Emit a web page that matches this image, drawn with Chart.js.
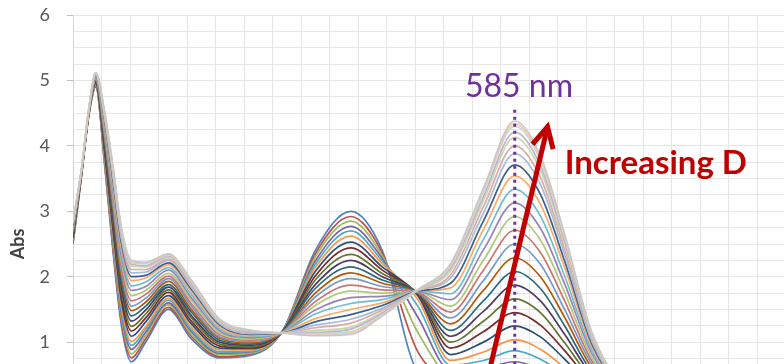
<!DOCTYPE html>
<html>
<head>
<meta charset="utf-8">
<script src="https://cdn.jsdelivr.net/npm/chart.js@4.4.1/dist/chart.umd.min.js"></script>
<style>
  html, body { margin: 0; padding: 0; background: #fff; overflow: hidden; }
  #wrap { width: 784px; height: 364px; overflow: hidden; }
</style>
</head>
<body>
<div id="wrap"><canvas id="spectra" width="830" height="503"></canvas></div>
<script>
// wavelength (nm)
const wavelength = [275, 281, 286, 291, 297, 303, 309, 316, 326, 342, 358, 378, 400, 422, 445, 470, 492, 517, 540, 563, 585, 603, 620, 640, 670, 720, 795];

// absorbance, one spectrum per D step
const abs01 = [2.50, 3.55, 4.45, 4.90, 3.75, 2.40, 1.25, 0.70, 1.00, 1.50, 1.05, 0.76, 0.80, 1.17, 2.40, 3.00, 2.40, 0.55, 0.35, 0.22, 0.20, 0.15, 0.10, 0.05, 0.02, 0.01, 0.02];
const abs02 = [2.51, 3.55, 4.45, 4.91, 3.78, 2.45, 1.31, 0.76, 1.05, 1.53, 1.09, 0.78, 0.82, 1.17, 2.35, 2.92, 2.36, 0.85, 0.42, 0.35, 0.37, 0.30, 0.20, 0.09, 0.03, 0.01, 0.02];
const abs03 = [2.53, 3.56, 4.46, 4.92, 3.81, 2.50, 1.37, 0.82, 1.10, 1.57, 1.12, 0.81, 0.83, 1.17, 2.30, 2.85, 2.32, 1.15, 0.50, 0.47, 0.53, 0.45, 0.30, 0.13, 0.03, 0.01, 0.02];
const abs04 = [2.54, 3.56, 4.46, 4.93, 3.85, 2.56, 1.43, 0.89, 1.15, 1.60, 1.16, 0.83, 0.85, 1.17, 2.24, 2.77, 2.28, 1.38, 0.57, 0.60, 0.70, 0.59, 0.41, 0.18, 0.04, 0.01, 0.02];
const abs05 = [2.56, 3.57, 4.47, 4.94, 3.88, 2.61, 1.49, 0.95, 1.20, 1.64, 1.19, 0.85, 0.86, 1.17, 2.19, 2.70, 2.24, 1.55, 0.65, 0.72, 0.87, 0.74, 0.51, 0.22, 0.05, 0.02, 0.02];
const abs06 = [2.57, 3.57, 4.47, 4.94, 3.91, 2.66, 1.55, 1.01, 1.24, 1.67, 1.23, 0.88, 0.88, 1.16, 2.14, 2.62, 2.20, 1.65, 0.72, 0.85, 1.04, 0.89, 0.61, 0.26, 0.06, 0.02, 0.02];
const abs07 = [2.59, 3.58, 4.48, 4.96, 3.95, 2.73, 1.63, 1.09, 1.31, 1.71, 1.28, 0.91, 0.90, 1.16, 2.08, 2.53, 2.15, 1.71, 0.81, 1.00, 1.25, 1.08, 0.74, 0.31, 0.07, 0.02, 0.02];
const abs08 = [2.61, 3.58, 4.48, 4.97, 3.99, 2.79, 1.70, 1.17, 1.37, 1.76, 1.32, 0.94, 0.91, 1.16, 2.01, 2.44, 2.10, 1.73, 0.91, 1.16, 1.45, 1.26, 0.87, 0.37, 0.07, 0.02, 0.02];
const abs09 = [2.62, 3.59, 4.49, 4.98, 4.03, 2.86, 1.78, 1.24, 1.43, 1.80, 1.37, 0.97, 0.93, 1.16, 1.95, 2.34, 2.05, 1.74, 1.00, 1.32, 1.66, 1.45, 0.99, 0.42, 0.08, 0.02, 0.02];
const abs10 = [2.64, 3.59, 4.49, 4.99, 4.07, 2.92, 1.85, 1.32, 1.49, 1.84, 1.41, 1.00, 0.95, 1.16, 1.88, 2.25, 2.00, 1.74, 1.09, 1.47, 1.87, 1.63, 1.12, 0.47, 0.09, 0.03, 0.02];
const abs11 = [2.66, 3.60, 4.50, 5.00, 4.11, 2.99, 1.93, 1.40, 1.55, 1.88, 1.46, 1.03, 0.97, 1.16, 1.82, 2.15, 1.95, 1.75, 1.18, 1.63, 2.08, 1.82, 1.25, 0.52, 0.10, 0.03, 0.02];
const abs12 = [2.68, 3.60, 4.50, 5.01, 4.15, 3.05, 2.00, 1.48, 1.61, 1.93, 1.50, 1.06, 0.99, 1.15, 1.75, 2.06, 1.90, 1.75, 1.28, 1.79, 2.29, 2.00, 1.38, 0.58, 0.11, 0.03, 0.02];
const abs13 = [2.69, 3.61, 4.51, 5.02, 4.19, 3.12, 2.08, 1.55, 1.67, 1.97, 1.55, 1.08, 1.01, 1.15, 1.69, 1.97, 1.85, 1.76, 1.37, 1.94, 2.50, 2.19, 1.50, 0.63, 0.12, 0.03, 0.02];
const abs14 = [2.71, 3.61, 4.51, 5.03, 4.23, 3.18, 2.15, 1.63, 1.73, 2.01, 1.59, 1.11, 1.03, 1.15, 1.62, 1.87, 1.80, 1.76, 1.46, 2.10, 2.71, 2.37, 1.63, 0.68, 0.13, 0.03, 0.03];
const abs15 = [2.73, 3.62, 4.52, 5.04, 4.27, 3.25, 2.23, 1.71, 1.79, 2.05, 1.64, 1.14, 1.05, 1.15, 1.56, 1.78, 1.75, 1.77, 1.55, 2.25, 2.92, 2.56, 1.76, 0.73, 0.14, 0.04, 0.03];
const abs16 = [2.75, 3.62, 4.52, 5.05, 4.31, 3.31, 2.30, 1.79, 1.85, 2.10, 1.68, 1.17, 1.07, 1.15, 1.49, 1.68, 1.70, 1.77, 1.65, 2.41, 3.13, 2.74, 1.89, 0.79, 0.15, 0.04, 0.03];
const abs17 = [2.76, 3.63, 4.53, 5.07, 4.35, 3.38, 2.38, 1.86, 1.92, 2.14, 1.73, 1.20, 1.09, 1.15, 1.43, 1.59, 1.65, 1.78, 1.74, 2.57, 3.34, 2.93, 2.01, 0.84, 0.16, 0.04, 0.03];
const abs18 = [2.78, 3.63, 4.53, 5.08, 4.39, 3.44, 2.45, 1.94, 1.98, 2.18, 1.77, 1.23, 1.10, 1.15, 1.36, 1.50, 1.60, 1.78, 1.83, 2.72, 3.54, 3.11, 2.14, 0.89, 0.16, 0.04, 0.03];
const abs19 = [2.79, 3.63, 4.53, 5.08, 4.42, 3.49, 2.51, 2.00, 2.02, 2.21, 1.81, 1.26, 1.12, 1.14, 1.31, 1.42, 1.56, 1.78, 1.90, 2.85, 3.71, 3.26, 2.24, 0.93, 0.17, 0.04, 0.03];
const abs20 = [2.81, 3.64, 4.54, 5.09, 4.45, 3.54, 2.57, 2.06, 2.07, 2.25, 1.84, 1.28, 1.13, 1.14, 1.26, 1.35, 1.52, 1.79, 1.98, 2.97, 3.88, 3.41, 2.34, 0.97, 0.18, 0.05, 0.03];
const abs21 = [2.82, 3.64, 4.54, 5.10, 4.48, 3.58, 2.62, 2.11, 2.11, 2.27, 1.87, 1.30, 1.15, 1.14, 1.22, 1.29, 1.49, 1.79, 2.03, 3.07, 4.00, 3.52, 2.42, 1.01, 0.18, 0.05, 0.03];
const abs22 = [2.83, 3.64, 4.54, 5.11, 4.50, 3.62, 2.66, 2.16, 2.15, 2.30, 1.90, 1.31, 1.16, 1.14, 1.18, 1.23, 1.46, 1.79, 2.09, 3.16, 4.13, 3.63, 2.50, 1.04, 0.19, 0.05, 0.03];
const abs23 = [2.84, 3.65, 4.55, 5.11, 4.52, 3.65, 2.69, 2.19, 2.17, 2.32, 1.91, 1.33, 1.16, 1.14, 1.15, 1.20, 1.44, 1.80, 2.13, 3.22, 4.21, 3.70, 2.55, 1.06, 0.19, 0.05, 0.03];
const abs24 = [2.84, 3.65, 4.55, 5.12, 4.53, 3.67, 2.72, 2.22, 2.20, 2.33, 1.93, 1.34, 1.17, 1.14, 1.13, 1.16, 1.42, 1.80, 2.16, 3.29, 4.30, 3.78, 2.60, 1.08, 0.20, 0.05, 0.03];
const abs25 = [2.85, 3.65, 4.55, 5.12, 4.54, 3.69, 2.74, 2.23, 2.21, 2.34, 1.94, 1.34, 1.18, 1.14, 1.11, 1.14, 1.41, 1.80, 2.18, 3.32, 4.34, 3.81, 2.62, 1.09, 0.20, 0.05, 0.03];
const abs26 = [2.85, 3.65, 4.55, 5.12, 4.55, 3.70, 2.75, 2.25, 2.22, 2.35, 1.95, 1.35, 1.18, 1.14, 1.10, 1.12, 1.40, 1.80, 2.20, 3.35, 4.38, 3.85, 2.65, 1.10, 0.20, 0.05, 0.03];

// y tick labels shown on the axis
const yLabels = [1, 2, 3, 4, 5, 6];

// annotation: marked wavelength and arrow ends (nm, Abs)
const markNm = 585;
const arrowFrom = [561, 0];
const arrowTo = [608, 4.29];

const spectra = [abs01, abs02, abs03, abs04, abs05, abs06, abs07, abs08, abs09, abs10, abs11, abs12, abs13,
  abs14, abs15, abs16, abs17, abs18, abs19, abs20, abs21, abs22, abs23, abs24, abs25, abs26];

// excel style series colours, later spectra fade out to the light ones
const colors = ["#4F81BD", "#C0504D", "#9BBB59", "#8064A2", "#4BACC6", "#F79646",
  "#2C4D75", "#772C2A", "#5F7530", "#4D3B62", "#276A7C", "#B65708",
  "#729ACA", "#CD7371", "#AFC97A", "#9983B5", "#6FBDD1", "#F9AB6B",
  "#3A5F8B", "#A9BCD9", "#DCA9A8", "#C9D9AA", "#BFB1D0", "#B6D9E3", "#FBCAA2", "#C8C8C8"];

let datasets = spectra.map(function(s, i) {
  return {
    label: "D" + (i + 1),
    data: s.map((v, j) => ({ x: wavelength[j], y: v })),
    borderColor: colors[i],
    borderWidth: 1.7,
    pointRadius: 0,
    fill: false,
    cubicInterpolationMode: "monotone",
    order: spectra.length - i
  };
});

// arrow, dotted line and labels on top of the spectra
const notes = {
  id: "notes",
  afterDatasetsDraw(chart) {
    const { ctx, scales: { x, y } } = chart;
    ctx.save();

    // dotted line at 585 nm
    const lx = x.getPixelForValue(markNm);
    ctx.strokeStyle = "#7030A0";
    ctx.lineWidth = 3;
    ctx.setLineDash([3, 4]);
    ctx.beginPath();
    ctx.moveTo(lx, y.getPixelForValue(4.55));
    ctx.lineTo(lx, y.getPixelForValue(-1));
    ctx.stroke();
    ctx.setLineDash([]);

    ctx.fillStyle = "#7030A0";
    ctx.font = "32px Lato";
    ctx.textAlign = "center";
    ctx.textBaseline = "alphabetic";
    ctx.fillText(markNm + " nm", x.getPixelForValue(588), y.getPixelForValue(4.75));

    // red arrow
    const x0 = x.getPixelForValue(arrowFrom[0]), y0 = y.getPixelForValue(arrowFrom[1]);
    const x1 = x.getPixelForValue(arrowTo[0]), y1 = y.getPixelForValue(arrowTo[1]);
    const back = Math.atan2(y0 - y1, x0 - x1);
    ctx.strokeStyle = "#C00000";
    ctx.lineWidth = 5;
    ctx.lineCap = "butt";
    ctx.beginPath();
    ctx.moveTo(x0, y0);
    ctx.lineTo(x1 + 2 * Math.cos(back), y1 + 2 * Math.sin(back));
    ctx.stroke();
    ctx.lineJoin = "miter";
    ctx.beginPath();
    ctx.moveTo(x1 + 23 * Math.cos(back + 0.48), y1 + 23 * Math.sin(back + 0.48));
    ctx.lineTo(x1, y1);
    ctx.lineTo(x1 + 23 * Math.cos(back - 0.48), y1 + 23 * Math.sin(back - 0.48));
    ctx.stroke();

    ctx.fillStyle = "#C00000";
    ctx.font = "bold 33px Lato";
    ctx.textAlign = "left";
    ctx.fillText("Increasing D", x.getPixelForValue(620), y.getPixelForValue(3.57));
    ctx.restore();
  }
};

let chart = new Chart(document.getElementById("spectra"), {
  type: "line",
  data: { datasets: datasets },
  options: {
    responsive: false,
    animation: false,
    layout: { padding: { top: 15, right: 16, left: 0, bottom: 0 } },
    plugins: { legend: { display: false }, tooltip: { enabled: false } },
    scales: {
      x: {
        type: "linear",
        min: 275,
        max: 795,
        ticks: { display: false, stepSize: 20, autoSkip: false, maxTicksLimit: 100 },
        grid: { color: "#E6E6E6", drawTicks: false },
        border: { display: false },
        afterFit: function(scale) { scale.height = 30; }
      },
      y: {
        min: -1,
        max: 6,
        ticks: {
          stepSize: 0.25,
          autoSkip: false,
          maxTicksLimit: 100,
          padding: 0,
          color: "#595959",
          font: { family: "Lato", size: 18 },
          callback: v => (yLabels.includes(v) ? v : "")
        },
        grid: {
          color: "#E6E6E6",
          // long tick area keeps the labels away from the axis, only the inner 6px is drawn
          tickLength: 23,
          tickBorderDash: [6, 17],
          tickBorderDashOffset: 6,
          tickColor: c => (c.tick && yLabels.includes(c.tick.value) ? "#BFBFBF" : "rgba(0,0,0,0)")
        },
        border: { color: "#D4D4D4" },
        title: {
          display: true,
          text: "Abs",
          color: "#404040",
          font: { family: "Lato", size: 18, weight: "bold" },
          padding: { top: 7, bottom: 0 }
        },
        afterFit: function(scale) { scale.width = 73; }
      }
    }
  },
  plugins: [notes]
});
</script>
</body>
</html>
